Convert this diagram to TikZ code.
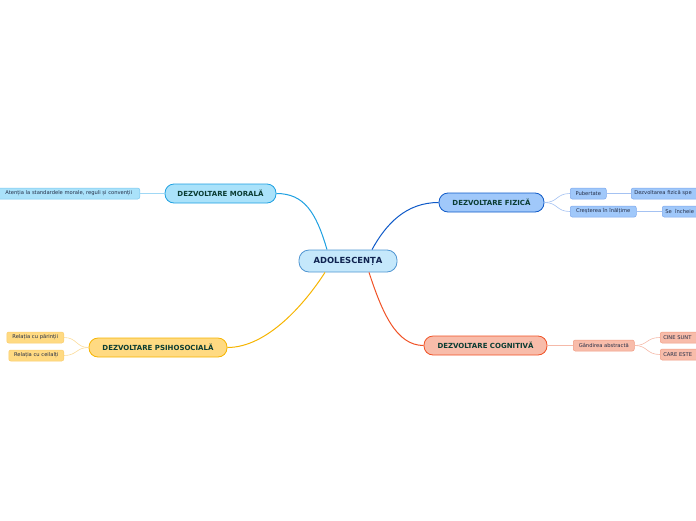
\documentclass[tikz,border=0pt]{standalone}
\usepackage{fontspec}
\setmainfont{DejaVu Sans}
\usetikzlibrary{calc}
\definecolor{CoreFill}{RGB}{197,232,251}
\definecolor{CoreLine}{RGB}{80,150,210}
\definecolor{CoreText}{RGB}{15,35,80}
\definecolor{TopicText}{RGB}{10,60,50}
\definecolor{LeafText}{RGB}{35,45,70}
\definecolor{MoralFill}{RGB}{170,226,250}
\definecolor{MoralLine}{RGB}{30,160,225}
\definecolor{MoralSoft}{RGB}{120,200,240}
\definecolor{FizFill}{RGB}{160,200,250}
\definecolor{FizLine}{RGB}{15,90,200}
\definecolor{FizSoft}{RGB}{125,168,236}
\definecolor{PsiFill}{RGB}{255,218,130}
\definecolor{PsiLine}{RGB}{246,180,0}
\definecolor{PsiSoft}{RGB}{250,205,110}
\definecolor{CogFill}{RGB}{248,188,170}
\definecolor{CogLine}{RGB}{240,82,38}
\definecolor{CogSoft}{RGB}{240,155,130}

\begin{document}
\begin{tikzpicture}[x=1pt,y=-1pt,
    core/.style={draw=CoreLine,fill=CoreFill,line width=0.8pt,rounded corners=10pt,
      minimum width=98pt,minimum height=22pt,text=CoreText,font=\fontsize{8.4}{9}\selectfont\bfseries},
    topic/.style={draw,line width=0.8pt,rounded corners=9pt,minimum height=19pt,
      inner xsep=0pt,text=TopicText,font=\fontsize{7}{8}\selectfont\bfseries},
    leaf/.style={draw,line width=0.5pt,rounded corners=2pt,minimum height=11pt,
      inner xsep=3pt,inner ysep=0pt,text=LeafText,font=\fontsize{5.2}{6}\selectfont},
    cut/.style={leaf,anchor=west,text width=90pt,align=left},
    branch/.style={line width=1pt},
    twig/.style={line width=0.6pt}]
  \useasboundingbox (0,0) rectangle (696,520);
  \clip (0,0) rectangle (696,520);

  % centre
  \node[core] (adol) at (348,261) {ADOLESCENȚA};

  % topics
  \node[topic,draw=MoralLine,fill=MoralFill,minimum width=111pt] (moral) at (220.5,193.5) {DEZVOLTARE MORALĂ};
  \node[topic,draw=FizLine,fill=FizFill,minimum width=105pt] (fiz) at (491.5,202.5) {DEZVOLTARE FIZICĂ};
  \node[topic,draw=PsiLine,fill=PsiFill,minimum width=138pt] (psi) at (158,347.5) {DEZVOLTARE PSIHOSOCIALĂ};
  \node[topic,draw=CogLine,fill=CogFill,minimum width=123pt] (cog) at (485.5,345.5) {DEZVOLTARE COGNITIVĂ};

  % leaves
  \node[leaf,draw=MoralSoft,fill=MoralFill,anchor=east,minimum width=142pt] (aten) at (140,193.5) {Atenția la standardele morale, reguli și convenții};
  \node[leaf,draw=FizSoft,fill=FizFill,anchor=west,minimum width=36pt] (pub) at (570,193.5) {Pubertate};
  \node[leaf,draw=FizSoft,fill=FizFill,anchor=west,minimum width=66pt] (cres) at (570,211.5) {Creșterea în înălțime};
  \node[cut,draw=FizSoft,fill=FizFill] (dezv) at (631,193.5) {Dezvoltarea fizică spe};
  \node[cut,draw=FizSoft,fill=FizFill] (inch) at (662,211.5) {Se\ \ încheie};
  \node[leaf,draw=PsiSoft,fill=PsiFill,anchor=east,minimum width=57pt] (par) at (64,337.5) {Relația cu părinții};
  \node[leaf,draw=PsiSoft,fill=PsiFill,anchor=east,minimum width=55pt] (cei) at (64,355.5) {Relația cu ceilalți};
  \node[leaf,draw=CogSoft,fill=CogFill,anchor=west,minimum width=61pt] (gand) at (573,345.5) {Gândirea abstractă};
  \node[cut,draw=CogSoft,fill=CogFill] (cine) at (660,337.5) {CINE SUNT};
  \node[cut,draw=CogSoft,fill=CogFill] (care) at (660,354.5) {CARE ESTE};

  % main branches
  \draw[branch,MoralLine] ($(adol.north)+(-21,0)$) .. controls (316,212) and (304,193.5) .. (moral.east);
  \draw[branch,FizLine] ($(adol.north)+(24,0)$) .. controls (386,224) and (406,202.5) .. (fiz.west);
  \draw[branch,PsiLine] ($(adol.south)+(-23,0)$) .. controls (306,302) and (268,347.5) .. (psi.east);
  \draw[branch,CogLine] ($(adol.south)+(21,0)$) .. controls (382,312) and (396,345.5) .. (cog.west);

  % twigs
  \draw[twig,MoralSoft!70] (aten.east) -- (moral.west);
  \draw[twig,FizSoft!70] (fiz.east) .. controls (558,202.5) and (556,193.5) .. (pub.west);
  \draw[twig,FizSoft!70] (fiz.east) .. controls (558,202.5) and (556,211.5) .. (cres.west);
  \draw[twig,FizSoft!70] (pub.east) -- (dezv.west);
  \draw[twig,FizSoft!70] (cres.east) -- (inch.west);
  \draw[twig,PsiSoft!70] (psi.west) .. controls (76,347.5) and (77,337.5) .. (par.east);
  \draw[twig,PsiSoft!70] (psi.west) .. controls (76,347.5) and (77,355.5) .. (cei.east);
  \draw[twig,CogSoft!70] (cog.east) -- (gand.west);
  \draw[twig,CogSoft!70] (gand.east) .. controls (648,345.5) and (646,337.5) .. (cine.west);
  \draw[twig,CogSoft!70] (gand.east) .. controls (648,345.5) and (646,354.5) .. (care.west);
\end{tikzpicture}
\end{document}
